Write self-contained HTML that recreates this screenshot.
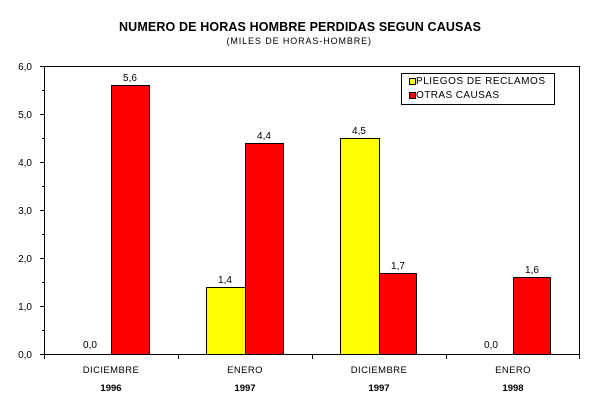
<!DOCTYPE html>
<html><head><meta charset="utf-8"><style>body{margin:0;background:#fff}svg{display:block}text{font-family:"Liberation Sans",Arial,sans-serif;fill:#000}</style></head><body>
<svg width="600" height="413" viewBox="0 0 600 413" xmlns="http://www.w3.org/2000/svg">
<rect width="600" height="413" fill="#fff"/>
<text x="300" y="31" font-size="12.5" font-weight="bold" text-anchor="middle" textLength="362">NUMERO DE HORAS HOMBRE PERDIDAS SEGUN CAUSAS</text>
<text x="299" y="44" font-size="9" text-anchor="middle" textLength="145" letter-spacing="0.5">(MILES DE  HORAS-HOMBRE)</text>
<g stroke="#000" stroke-width="1" fill="none" shape-rendering="crispEdges">
<polyline points="44.5,354 44.5,66.5 579.5,66.5 579.5,354"/>
<line x1="44" y1="354.5" x2="580" y2="354.5"/>
<path d="M40 66.5h4M42 90.5h2M40 114.5h4M42 138.5h2M40 162.5h4M42 186.5h2M40 210.5h4M42 234.5h2M40 258.5h4M42 282.5h2M40 306.5h4M42 330.5h2M40 354.5h4"/>
<path d="M44.5 354v5M178.5 354v5M312.5 354v5M446.5 354v5M579.5 354v5"/>
</g>
<g font-size="10" text-anchor="end">
<text x="32" y="70">6,0</text><text x="32" y="118">5,0</text><text x="32" y="166">4,0</text><text x="32" y="214">3,0</text><text x="32" y="262">2,0</text><text x="32" y="310">1,0</text><text x="32" y="358">0,0</text>
</g>
<g stroke="#000" stroke-width="1" shape-rendering="crispEdges">
<rect x="111.5" y="85.5" width="38" height="269" fill="#f00"/>
<rect x="206.5" y="287.5" width="39" height="67" fill="#ff0"/>
<rect x="245.5" y="143.5" width="38" height="211" fill="#f00"/>
<rect x="340.5" y="138.5" width="39" height="216" fill="#ff0"/>
<rect x="379.5" y="273.5" width="37" height="81" fill="#f00"/>
<rect x="513.5" y="277.5" width="37" height="77" fill="#f00"/>
</g>
<g font-size="10" text-anchor="middle">
<text x="90" y="348">0,0</text><text x="130" y="81">5,6</text>
<text x="225" y="283">1,4</text><text x="264" y="139">4,4</text>
<text x="359" y="134">4,5</text><text x="398" y="269">1,7</text>
<text x="491" y="348">0,0</text><text x="532" y="273">1,6</text>
</g>
<g font-size="9.5" text-anchor="middle" letter-spacing="0.4">
<text x="111" y="373">DICIEMBRE</text><text x="245" y="373">ENERO</text><text x="379" y="373">DICIEMBRE</text><text x="513" y="373">ENERO</text>
</g>
<g font-size="9.5" font-weight="bold" text-anchor="middle">
<text x="111" y="391">1996</text><text x="245" y="391">1997</text><text x="379" y="391">1997</text><text x="513" y="391">1998</text>
</g>
<rect x="401.5" y="73.5" width="153" height="31" fill="#fff" stroke="#000" shape-rendering="crispEdges"/>
<rect x="409.5" y="78.5" width="6" height="6" fill="#ff0" stroke="#000" shape-rendering="crispEdges"/>
<rect x="409.5" y="92.5" width="6" height="6" fill="#f00" stroke="#000" shape-rendering="crispEdges"/>
<text x="416" y="84" font-size="10" textLength="129">PLIEGOS DE RECLAMOS</text>
<text x="416" y="98" font-size="10" textLength="83">OTRAS CAUSAS</text>
</svg>
</body></html>
